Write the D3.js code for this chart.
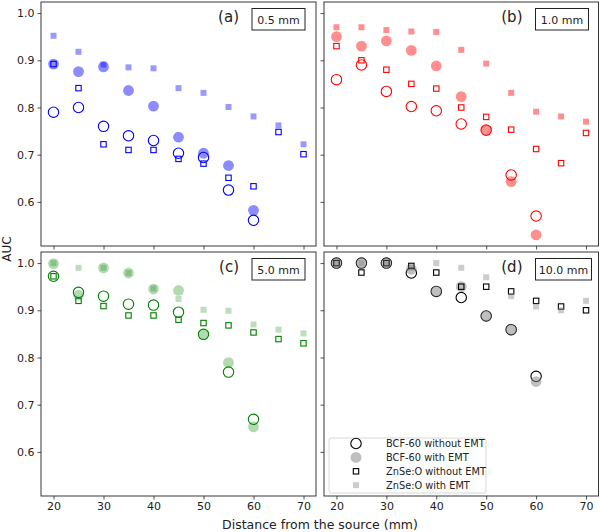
<!DOCTYPE html>
<html><head><meta charset="utf-8">
<script src="https://cdn.jsdelivr.net/npm/d3@7"></script>
<style>body{margin:0;background:#fff}svg{display:block;font-family:"DejaVu Sans",sans-serif}</style>
</head><body><svg id="c" width="600" height="532"></svg>
<script>
const distances = [20,25,30,35,40,45,50,55,60,65,70];
const xTicks = [20,30,40,50,60,70];
const yTicks = [0.6,0.7,0.8,0.9,1.0];
const seriesNames = ["BCF-60 without EMT","BCF-60 with EMT","ZnSe:O without EMT","ZnSe:O with EMT"];
const panelLabels = ["(a)","(b)","(c)","(d)"];
const thicknessLabels = ["0.5 mm","1.0 mm","5.0 mm","10.0 mm"];

// panel (a) 0.5 mm
const bcfWithout_a = [0.79,0.80,0.76,0.74,0.73,0.703,0.694,0.625,0.561];
const bcfWith_a    = [0.892,0.876,0.886,0.836,0.803,0.737,0.703,0.677,0.582];
const znseWithout_a= [0.892,0.841,0.722,0.710,0.710,0.691,0.681,0.651,0.633,0.748,0.701];
const znseWith_a   = [0.952,0.918,0.891,0.885,0.883,0.841,0.831,0.801,0.781,0.762,0.722];
// panel (b) 1.0 mm
const bcfWithout_b = [0.859,0.890,0.834,0.802,0.793,0.765,0.752,0.657,0.570];
const bcfWith_b    = [0.950,0.930,0.941,0.921,0.888,0.823,0.753,0.643,0.530];
const znseWithout_b= [0.930,0.900,0.880,0.850,0.840,0.800,0.780,0.753,0.712,0.682,0.746];
const znseWith_b   = [0.970,0.970,0.964,0.961,0.960,0.922,0.893,0.831,0.791,0.781,0.770];
// panel (c) 5.0 mm
const bcfWithout_c = [0.972,0.938,0.930,0.913,0.911,0.896,0.849,0.769,0.669];
const bcfWith_c    = [0.999,0.932,0.990,0.979,0.945,0.942,0.849,0.789,0.653];
const znseWithout_c= [0.972,0.920,0.909,0.889,0.889,0.880,0.873,0.868,0.853,0.839,0.830];
const znseWith_c   = [1.0,0.990,0.990,0.979,0.946,0.924,0.901,0.899,0.870,0.859,0.851];
// panel (d) 10.0 mm
const bcfWithout_d = [1.0,1.0,1.0,0.979,0.94,0.927,0.888,0.859,0.76];
const bcfWith_d    = [1.0,1.0,1.0,0.987,0.94,0.95,0.888,0.859,0.749];
const znseWithout_d= [1.0,0.98,1.0,0.994,0.98,0.95,0.95,0.94,0.92,0.908,0.90];
const znseWith_d   = [1.0,1.0,1.0,0.99,1.0,0.99,0.97,0.93,0.908,0.90,0.92];

const panelData = [
  [bcfWithout_a,bcfWith_a,znseWithout_a,znseWith_a],
  [bcfWithout_b,bcfWith_b,znseWithout_b,znseWith_b],
  [bcfWithout_c,bcfWith_c,znseWithout_c,znseWith_c],
  [bcfWithout_d,bcfWith_d,znseWithout_d,znseWith_d]
];
const openColors = ["#0000ff","#ff0000","#008000","#000000"];
const fillColors = ["#0000ff","#ff0000","#008000","#808080"];
const circleAlpha = [0.45,0.44,0.3,0.5];
const squareAlpha = [0.4,0.44,0.26,0.4];

const svg = d3.select("#c");
const cols = [[41,316],[324,598.5]];
const rows = [[2,246],[252,496]];
const ink = "#222";

panelData.forEach((series, i) => {
  const cx = cols[i%2], ry = rows[Math.floor(i/2)];
  const x = d3.scaleLinear().domain([17.5,72.5]).range(cx);
  const y = d3.scaleLinear().domain([0.5065,1.0235]).range([ry[1],ry[0]]);
  const g = svg.append("g");
  const xa = g.append("g").attr("transform",`translate(0,${ry[1]})`)
    .call(d3.axisBottom(x).tickValues(xTicks).tickSize(3.5).tickPadding(3)
      .tickFormat(i>=2 ? d3.format("d") : ""));
  const ya = g.append("g").attr("transform",`translate(${cx[0]},0)`)
    .call(d3.axisLeft(y).tickValues(yTicks).tickSize(3.5).tickPadding(3)
      .tickFormat(i%2===0 ? d3.format(".1f") : ""));
  [xa,ya].forEach(a=>{
    a.select(".domain").remove();
    a.selectAll("line").attr("stroke",ink).attr("stroke-width",0.8);
    a.selectAll("text").attr("fill",ink).style("font-size","11px").style("font-family","DejaVu Sans");
  });
  g.append("rect").attr("x",cx[0]).attr("y",ry[0]).attr("width",cx[1]-cx[0]).attr("height",ry[1]-ry[0])
    .attr("fill","none").attr("stroke",ink).attr("stroke-width",0.9);

  const pts = (arr) => arr.map((v,k)=>({d:distances[k],v})).filter(p=>p.v!=null);
  g.selectAll(".oc").data(pts(series[0])).join("circle")
    .attr("cx",p=>x(p.d)).attr("cy",p=>y(p.v)).attr("r",5.2)
    .attr("fill","none").attr("stroke",openColors[i]).attr("stroke-width",1.1);
  g.selectAll(".fc").data(pts(series[1])).join("circle")
    .attr("cx",p=>x(p.d)).attr("cy",p=>y(p.v)).attr("r",5.4)
    .attr("fill",fillColors[i]).attr("fill-opacity",circleAlpha[i]);
  g.selectAll(".os").data(pts(series[2])).join("rect")
    .attr("x",p=>x(p.d)-2.7).attr("y",p=>y(p.v)-2.7).attr("width",5.4).attr("height",5.4)
    .attr("fill","none").attr("stroke",openColors[i]).attr("stroke-width",1.1);
  g.selectAll(".fs").data(pts(series[3])).join("rect")
    .attr("x",p=>x(p.d)-3).attr("y",p=>y(p.v)-3).attr("width",6).attr("height",6)
    .attr("fill",fillColors[i]).attr("fill-opacity",squareAlpha[i]);

  const bx = cx[0]+ (i%2===0 ? 211 : 211.5);
  const bw = i===3 ? 56 : 53;
  g.append("text").attr("x",bx-13).attr("y",ry[0]+19.5).attr("text-anchor","end")
    .style("font-size","15px").attr("fill",ink).text(panelLabels[i]);
  g.append("rect").attr("x",bx).attr("y",ry[0]+6.5).attr("width",bw).attr("height",21.5)
    .attr("fill","#fff").attr("stroke",ink).attr("stroke-width",1);
  g.append("text").attr("x",bx+bw/2).attr("y",ry[0]+21.5).attr("text-anchor","middle")
    .style("font-size","11px").attr("fill",ink).text(thicknessLabels[i]);

  if (i===3) {
    const lg = g.append("g");
    lg.append("rect").attr("x",329).attr("y",438).attr("width",157).attr("height",55).attr("rx",2.5)
      .attr("fill","#fff").attr("fill-opacity",0.85).attr("stroke","#d8d8d8").attr("stroke-width",1);
    seriesNames.forEach((name,k)=>{
      const ly = 443.5 + k*13.9, lx = 356;
      if (k===0) lg.append("circle").attr("cx",lx).attr("cy",ly).attr("r",5.2).attr("fill","none").attr("stroke","#000").attr("stroke-width",1.1);
      if (k===1) lg.append("circle").attr("cx",lx).attr("cy",ly).attr("r",5.4).attr("fill","#808080").attr("fill-opacity",0.5);
      if (k===2) lg.append("rect").attr("x",lx-2.7).attr("y",ly-2.7).attr("width",5.4).attr("height",5.4).attr("fill","none").attr("stroke","#000").attr("stroke-width",1.1);
      if (k===3) lg.append("rect").attr("x",lx-3).attr("y",ly-3).attr("width",6).attr("height",6).attr("fill","#808080").attr("fill-opacity",0.4);
      lg.append("text").attr("x",386).attr("y",ly+3.8).style("font-size","9.8px").attr("fill",ink).text(name);
    });
  }
});

svg.append("text").attr("x",320).attr("y",529).attr("text-anchor","middle")
  .style("font-size","12.5px").attr("fill",ink).text("Distance from the source (mm)");
svg.append("text").attr("transform","translate(11,249) rotate(-90)").attr("text-anchor","middle")
  .style("font-size","12px").attr("fill",ink).text("AUC");
</script></body></html>
